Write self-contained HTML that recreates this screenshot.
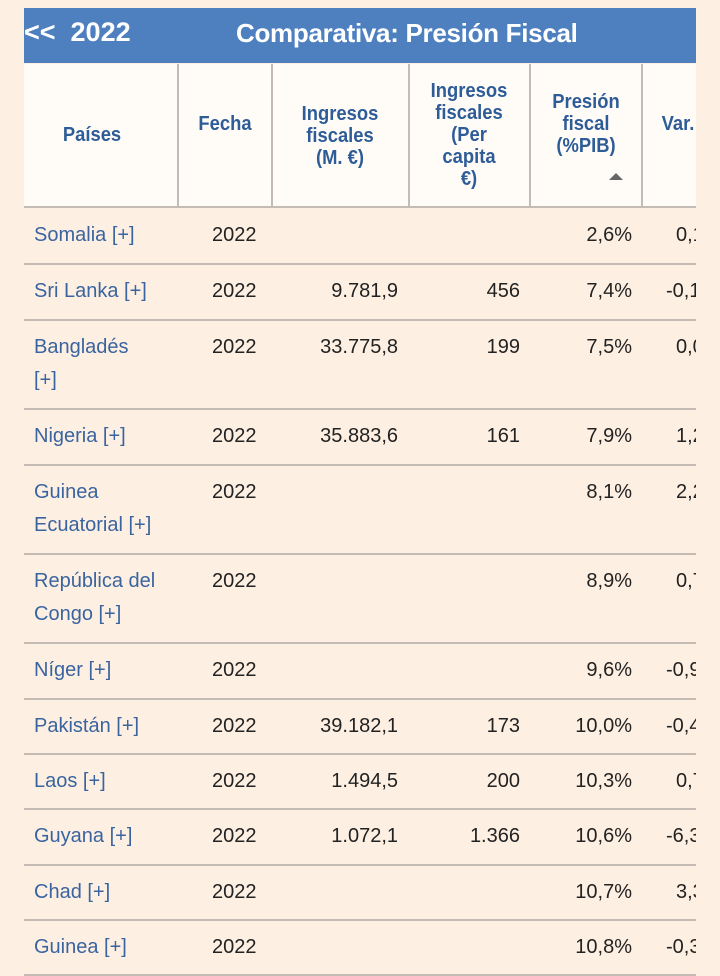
<!DOCTYPE html>
<html><head><meta charset="utf-8"><style>
body{margin:0;width:720px;height:976px;background:#fdf0e2;position:relative;overflow:hidden;font-family:"Liberation Sans",Arial,sans-serif}
.bar{position:absolute;left:24px;top:8px;width:672px;height:55px;background:#4e80c0;color:#fff;font-weight:bold}
.hdr{position:absolute;left:24px;top:64px;width:672px;height:144px;background:#fffcf8;border-bottom:2px solid #c4bcb4;box-sizing:border-box}
.vs{position:absolute;top:64px;height:144px;width:2px;background:#c4bcb4}
.h{position:absolute;color:#2e5c97;font-weight:bold;font-size:20px;line-height:22px;text-align:center;transform:translateX(-50%) scaleX(0.92)}
.line{position:absolute;left:24px;width:672px;height:2px;background:#c4bcb4}
.t{position:absolute;font-size:20px;line-height:33px;color:#222;white-space:nowrap}
.n{color:#3a64a0;left:34px}
.r{text-align:right}
.clip{position:absolute;left:0;top:0;width:696px;height:976px;overflow:hidden}
</style></head><body>
<div class="bar"><span style="position:absolute;left:0;top:9px;font-size:27px">&lt;&lt;&nbsp; 2022</span><span style="position:absolute;left:212px;top:10px;font-size:26px;letter-spacing:-0.3px">Comparativa: Presión Fiscal</span></div>
<div class="hdr"></div>
<div class="vs" style="left:177px"></div><div class="vs" style="left:271px"></div><div class="vs" style="left:408px"></div><div class="vs" style="left:529px"></div><div class="vs" style="left:641px"></div>
<div class="h" style="left:92px;top:124px">Países</div>
<div class="h" style="left:225px;top:113px">Fecha</div>
<div class="h" style="left:340px;top:103px">Ingresos<br>fiscales<br>(M. €)</div>
<div class="h" style="left:469px;top:80px">Ingresos<br>fiscales<br>(Per<br>capita<br>€)</div>
<div class="h" style="left:586px;top:91px">Presión<br>fiscal<br>(%PIB)</div>
<div style="position:absolute;left:609px;top:173px;width:0;height:0;border-left:7px solid transparent;border-right:7px solid transparent;border-bottom:7px solid #666"></div>
<div class="clip">
<div class="h" style="left:678px;top:113px">Var.</div>
<div id="rows"></div>
</div>
<script>
var rows=[["Somalia [+]",208,264,"","","2,6%","0,1"],["Sri Lanka [+]",264,320,"9.781,9","456","7,4%","-0,1"],["Bangladés<br>[+]",320,409,"33.775,8","199","7,5%","0,0"],["Nigeria [+]",409,465,"35.883,6","161","7,9%","1,2"],["Guinea<br>Ecuatorial [+]",465,554,"","","8,1%","2,2"],["República del<br>Congo [+]",554,643,"","","8,9%","0,7"],["Níger [+]",643,699,"","","9,6%","-0,9"],["Pakistán [+]",699,754,"39.182,1","173","10,0%","-0,4"],["Laos [+]",754,809,"1.494,5","200","10,3%","0,7"],["Guyana [+]",809,865,"1.072,1","1.366","10,6%","-6,3"],["Chad [+]",865,920,"","","10,7%","3,3"],["Guinea [+]",920,975,"","","10,8%","-0,3"]];
var h="";rows.forEach(function(r){var t=r[1]+11;
h+='<div class="t n" style="top:'+t+'px">'+r[0]+'</div>';
h+='<div class="t" style="left:212px;top:'+t+'px">2022</div>';
h+='<div class="t r" style="right:'+(696-398)+'px;top:'+t+'px">'+r[3]+'</div>';
h+='<div class="t r" style="right:'+(696-520)+'px;top:'+t+'px">'+r[4]+'</div>';
h+='<div class="t r" style="right:'+(696-632)+'px;top:'+t+'px">'+r[5]+'</div>';
h+='<div class="t" style="left:'+(r[6][0]=="-"?666:676)+'px;top:'+t+'px">'+r[6]+'</div>';
h+='<div class="line" style="top:'+(r[2]-1)+'px"></div>';});
document.getElementById("rows").innerHTML=h;
</script>
</body></html>
